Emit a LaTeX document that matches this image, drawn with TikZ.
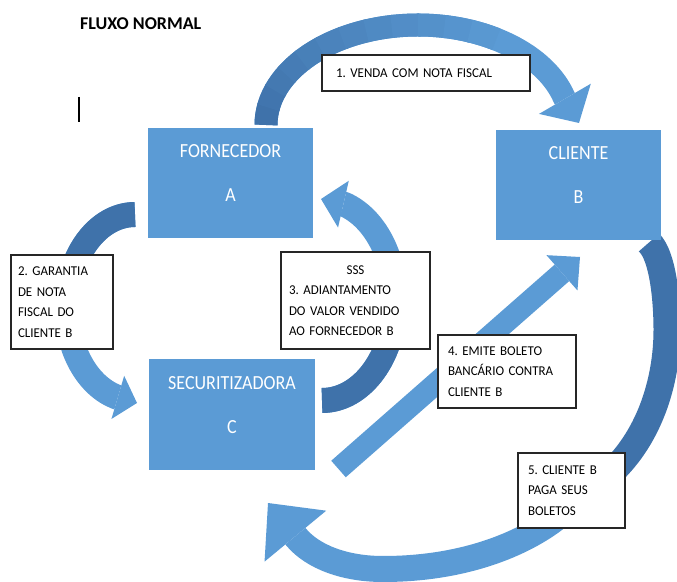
\documentclass[tikz,border=0pt]{standalone}
\usepackage{fontspec}
\setmainfont{Carlito}
\newfontfamily\entityfont{Carlito}[FakeStretch=0.9]
\newfontfamily\stepfont{Carlito}[FakeStretch=0.96]
\usetikzlibrary{arrows.meta}
\pgfdeclarelayer{background}
\pgfsetlayers{background,main}
\definecolor{flowlight}{RGB}{91,155,213}
\definecolor{flowdark}{RGB}{63,114,170}
\newcommand{\notesize}{\stepfont\frenchspacing\fontsize{13.5}{20.5}\selectfont}

\tikzset{
  entity/.style={fill=flowlight, text=white, align=center, inner sep=0pt, outer sep=0pt,
    minimum width=165pt, minimum height=110pt, font=\entityfont\fontsize{20}{44}\selectfont},
  note/.style={draw=black!85, line width=1.2pt, fill=white, text=black, align=left,
    inner ysep=0pt, outer sep=0pt, font=\notesize},
  band/.style={line width=#1, line cap=butt, line join=round, draw=flowlight},
  band/.default=23pt,
  bighead/.style 2 args={-{Triangle[width=#1,length=#2,line width=0pt]}}
}

\begin{document}
\begin{tikzpicture}[x=1pt, y=1pt]
    \useasboundingbox (0,0) rectangle (677,581);

    % Title and cursor mark
    \node[font=\bfseries\fontsize{18}{20}\selectfont, anchor=base west, inner sep=0pt] (titulo) at (80,551) {FLUXO NORMAL};
    \draw[line width=1.5pt] (79,484) -- (79,459);

    % Parties
    \node[entity] (forn) at (230.5,398) {FORNECEDOR\\A\rule[-19.5pt]{0pt}{19.5pt}};
    \node[entity] (cli) at (578.5,396) {CLIENTE\\B\rule[-19.5pt]{0pt}{19.5pt}};
    \node[entity, minimum width=166pt, minimum height=111pt] (sec) at (232,166.5) {SECURITIZADORA\\C\rule[-19.5pt]{0pt}{19.5pt}};

    % Step labels
    \node[note, text width=180pt, inner xsep=14pt, minimum height=36pt] (n1) at (426,508) {1. VENDA COM NOTA FISCAL};
    \node[note, text width=88pt, inner xsep=7pt, minimum height=94pt] (n2) at (62,279) {2. GARANTIA\\DE NOTA\\FISCAL DO\\CLIENTE B};
    \node[note, text width=133pt, inner xsep=8pt, minimum height=97pt] (n3) at (355.5,280.5) {\makebox[\hsize]{SSS}\\3. ADIANTAMENTO\\DO VALOR VENDIDO\\AO FORNECEDOR B};
    \node[note, text width=118pt, inner xsep=10pt, minimum height=73pt] (n4) at (507,209.5) {4. EMITE BOLETO\\BANCÁRIO CONTRA\\CLIENTE B};
    \node[note, text width=87pt, inner xsep=10pt, minimum height=75pt] (n5) at (571.5,90.5) {5. CLIENTE B\\PAGA SEUS\\BOLETOS};

    % Arrow ends
    \coordinate (a1) at ([shift={(35.5,3)}]forn.north);
    \coordinate (c1) at ([xshift=152]a1);
    \coordinate (t1) at ([shift={(0.5,7)}]cli.north);
    \coordinate (a2) at ([shift={(-13,-31.5)}]forn.west);
    \coordinate (t2) at ([shift={(-12,11.5)}]sec.west);
    \coordinate (a3) at ([shift={(7,14)}]sec.east);
    \coordinate (t3) at ([shift={(8,-16)}]forn.east);
    \coordinate (a4) at ([shift={(23.5,1)}]sec.south east);
    \coordinate (t4) at ([shift={(84,-17)}]cli.south west);
    \coordinate (d5) at ([shift={(-12,-2.5)}]cli.south east);
    \coordinate (a5) at ([shift={(-11.5,-24.5)}]n5.center);
    \coordinate (t5) at ([shift={(36,-33)}]sec.south);

    \begin{pgfonlayer}{background}
    % 1. venda
    \draw[band=23pt, bighead={60pt}{28pt}] (a1) arc[start angle=180, end angle=16, x radius=152, y radius=100] -- (t1);
    \foreach \a in {180,170,...,70}{
        \pgfmathsetmacro{\mix}{(\a-60)*100/120}
        \draw[band=23pt, draw=flowdark!\mix!flowlight] ([shift={(\a:152 and 100)}]c1) arc[start angle=\a, delta angle=-11, x radius=152, y radius=100];
    }

    % 2. garantia
    \draw[band=25pt, bighead={45pt}{20pt}] (a2) arc[start angle=90, end angle=254, x radius=68, y radius=93] -- (t2);
    \draw[band=25pt, draw=flowdark] (a2) arc[start angle=90, end angle=185, x radius=68, y radius=93];

    % 3. adiantamento
    \draw[band=25pt, bighead={48pt}{23pt}] (a3) arc[start angle=-90, end angle=72, x radius=73, y radius=100.5] -- (t3);
    \draw[band=25pt, draw=flowdark] (a3) arc[start angle=-90, end angle=-10, x radius=73, y radius=100.5];

    % 4. boleto
    \draw[band=22pt, bighead={47pt}{24pt}] (a4) -- (t4);

    % 5. pagamento
    \draw[band=27pt, draw=flowdark] (d5) .. controls (663,325) and (667,281) .. (667,251)
        .. controls (667,201) and (650,141) .. (605,103);
    \draw[band=26pt, bighead={80pt}{43pt}] (a5) .. controls (530,41) and (470,12) .. (383,12)
        .. controls (345,12) and (313,24) .. (296.5,43.5) -- (t5);
    \end{pgfonlayer}
\end{tikzpicture}
\end{document}
